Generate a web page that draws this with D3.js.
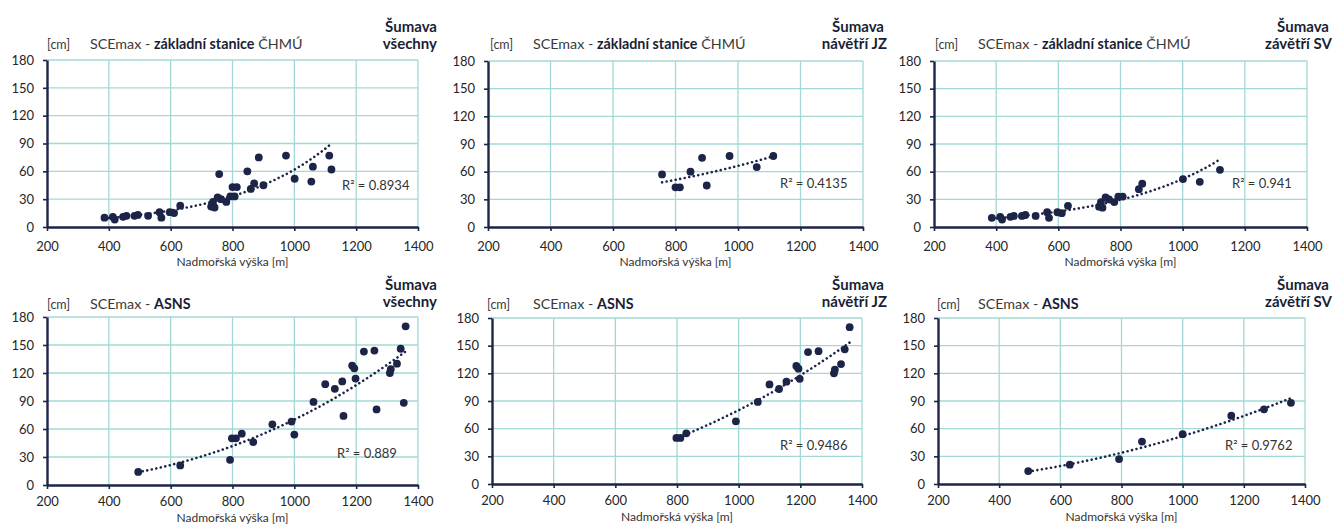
<!DOCTYPE html>
<html>
<head>
<meta charset="utf-8">
<script src="https://cdn.jsdelivr.net/npm/d3@7"></script>
<style>
  body { margin: 0; background: #ffffff; }
  svg { display: block; font-family: Lato, "Liberation Sans", sans-serif; }
</style>
</head>
<body>
<svg id="chart" width="1335" height="525"></svg>
<script>
// Values: [altitude in m, SCEmax in cm]
// ČHMÚ base stations, windward side (návětří JZ)
const chmuWindward = [[757, 57], [800, 43], [814, 43], [848, 60], [885, 75],
                      [900, 45], [973, 77], [1060, 65], [1113, 77]];
// ČHMÚ base stations, leeward side (závětří SV)
const chmuLeeward = [[386, 10], [413, 11], [419, 8], [446, 11], [457, 12], [483, 12],
                     [494, 13], [527, 12], [564, 16], [570, 10], [597, 16], [611, 15],
                     [631, 23], [731, 22], [737, 27], [742, 21], [752, 32], [763, 30],
                     [780, 27], [793, 33], [807, 33], [859, 41], [870, 47], [1001, 52],
                     [1055, 49], [1120, 62]];
// ASNS stations, windward side
const asnsWindward = [[798, 50], [811, 50], [830, 55], [991, 68], [1062, 89], [1100, 108],
                      [1131, 103], [1155, 111], [1187, 128], [1194, 125], [1198, 114],
                      [1225, 143], [1259, 144], [1309, 120], [1312, 124], [1332, 130],
                      [1344, 146], [1360, 170]];
// ASNS stations, leeward side
const asnsLeeward = [[495, 14], [631, 21], [792, 27], [867, 46], [1000, 54],
                     [1159, 74], [1266, 81], [1354, 88]];
// ASNS station that shows up only in the "všechny" panel
const asnsOther = [[929, 65]];

const xTicks = [200, 400, 600, 800, 1000, 1200, 1400];
const yTicks = [0, 30, 60, 90, 120, 150, 180];
const networkNames = ["základní stanice", "ASNS"];
const networkSuffix = [" ČHMÚ", ""];
const regionNames = ["všechny", "návětří JZ", "závětří SV"];
const r2Values = ["0.8934", "0.4135", "0.941", "0.889", "0.9486", "0.9762"];
// Excel trend line type per row: exponential on top, power below
const trendTypes = ["exp", "power"];

// which point sets go in which panel (row-major order)
const panelData = [
  chmuWindward.concat(chmuLeeward), chmuWindward, chmuLeeward,
  asnsWindward.concat(asnsLeeward, asnsOther), asnsWindward, asnsLeeward
];

// layout of the six plot areas, in px
const panelBoxes = [
  {left: 47,  right: 418,  top: 60,  bottom: 227, cmX: 47,  titleX: 90,  edgeX: 437,  r2dx: 295, r2dy: 130},
  {left: 488, right: 863,  top: 61,  bottom: 227, cmX: 490, titleX: 533, edgeX: 884,  r2dx: 292, r2dy: 127},
  {left: 934, right: 1307, top: 61,  bottom: 227, cmX: 935, titleX: 978, edgeX: 1329, r2dx: 298, r2dy: 127},
  {left: 47,  right: 418,  top: 317, bottom: 485, cmX: 47,  titleX: 90,  edgeX: 437,  r2dx: 290, r2dy: 141},
  {left: 492, right: 862,  top: 318, bottom: 484, cmX: 487, titleX: 533, edgeX: 884,  r2dx: 288, r2dy: 132},
  {left: 938, right: 1305, top: 318, bottom: 484, cmX: 937, titleX: 978, edgeX: 1329, r2dx: 287, r2dy: 132}
];

const navy = "#1c2448";
const gridColor = "#a3d8d5";

const svg = d3.select("#chart");


function fitTrend(points, type) {
    // Excel style: linear regression of ln(y) on x (exp) or ln(x) (power)
    let X = points.map(p => type == "power" ? Math.log(p[0]) : p[0]);
    let Y = points.map(p => Math.log(p[1]));
    let mx = d3.mean(X), my = d3.mean(Y);
    let sxy = 0, sxx = 0;
    for (let k = 0; k < X.length; k++) {
        sxy += (X[k] - mx) * (Y[k] - my);
        sxx += (X[k] - mx) * (X[k] - mx);
    }
    let b = sxy / sxx;
    let a = my - b * mx;
    if (type == "power") return x => Math.exp(a) * Math.pow(x, b);
    return x => Math.exp(a + b * x);
}


function drawPanel(i) {
    let b = panelBoxes[i];
    let pts = panelData[i];
    let row = Math.floor(i / 3);
    let col = i % 3;

    let x = d3.scaleLinear().domain([200, 1400]).range([b.left, b.right]);
    let y = d3.scaleLinear().domain([0, 180]).range([b.bottom, b.top]);

    let g = svg.append("g");

    // grid
    g.selectAll(".vgrid").data(xTicks.slice(1)).enter().append("line")
        .attr("x1", d => x(d)).attr("x2", d => x(d))
        .attr("y1", b.top).attr("y2", b.bottom)
        .attr("stroke", gridColor).attr("stroke-width", 1.3);
    g.selectAll(".hgrid").data(yTicks.slice(1)).enter().append("line")
        .attr("x1", b.left).attr("x2", b.right)
        .attr("y1", d => y(d)).attr("y2", d => y(d))
        .attr("stroke", gridColor).attr("stroke-width", 1.3);

    // axes
    let xAxis = g.append("g")
        .attr("transform", "translate(0," + b.bottom + ")")
        .call(d3.axisBottom(x).tickValues(xTicks).tickFormat(d3.format("d"))
              .tickSize(4).tickSizeOuter(0).tickPadding(row == 0 ? 11 : 8));
    let yAxis = g.append("g")
        .attr("transform", "translate(" + b.left + ",0)")
        .call(d3.axisLeft(y).tickValues(yTicks).tickSize(4).tickSizeOuter(0).tickPadding(9));

    [xAxis, yAxis].forEach(a => {
        a.select(".domain").attr("stroke", navy).attr("stroke-width", 2.4);
        a.selectAll(".tick line").attr("stroke", navy).attr("stroke-width", 1.6);
        a.selectAll(".tick text").attr("fill", "#262626")
            .attr("font-size", 13).attr("font-family", "Lato, sans-serif");
    });

    // x axis title
    g.append("text")
        .attr("x", (b.left + b.right) / 2)
        .attr("y", b.bottom + (row == 0 ? 39 : 37))
        .attr("text-anchor", "middle")
        .attr("font-size", 12).attr("fill", "#333")
        .text("Nadmořská výška [m]");

    // unit and title
    let titleY = row == 0 ? 49 : 309;
    g.append("text")
        .attr("x", b.cmX).attr("y", titleY)
        .attr("font-size", 12.5).attr("fill", "#3a3a3a")
        .text("[cm]");
    let t = g.append("text")
        .attr("x", b.titleX).attr("y", titleY)
        .attr("font-size", 14.3).attr("fill", "#3a3a3a");
    t.append("tspan").text("SCEmax - ");
    t.append("tspan").attr("font-weight", "bold").attr("fill", "#1a1f35").text(networkNames[row]);
    t.append("tspan").text(networkSuffix[row]);

    // region label top right
    let regionY = row == 0 ? 32 : 290;
    g.append("text")
        .attr("x", b.edgeX).attr("y", regionY)
        .attr("text-anchor", "end").attr("font-weight", "bold")
        .attr("font-size", 15).attr("fill", "#1a1f35")
        .text("Šumava");
    g.append("text")
        .attr("x", b.edgeX + (col == 0 ? 0 : 3)).attr("y", regionY + 17)
        .attr("text-anchor", "end").attr("font-weight", "bold")
        .attr("font-size", 15).attr("fill", "#1a1f35")
        .text(regionNames[col]);

    // trend line over the data range
    let f = fitTrend(pts, trendTypes[row]);
    let ext = d3.extent(pts, p => p[0]);
    let trend = d3.range(0, 41).map(k => {
        let xv = ext[0] + (ext[1] - ext[0]) * k / 40;
        return [xv, f(xv)];
    });
    g.append("path")
        .datum(trend)
        .attr("d", d3.line().x(d => x(d[0])).y(d => y(d[1])))
        .attr("fill", "none")
        .attr("stroke", navy).attr("stroke-width", 2.6)
        .attr("stroke-linecap", "round")
        .attr("stroke-dasharray", "0.01 4.6");

    // points
    g.selectAll(".pt").data(pts).enter().append("circle")
        .attr("cx", d => x(d[0])).attr("cy", d => y(d[1]))
        .attr("r", 3.9).attr("fill", navy);

    // R squared
    g.append("text")
        .attr("x", b.left + b.r2dx).attr("y", b.top + b.r2dy)
        .attr("font-size", 13).attr("fill", "#333")
        .text("R² = " + r2Values[i]);
}

for (let i = 0; i < 6; i++) drawPanel(i);
</script>
</body>
</html>
